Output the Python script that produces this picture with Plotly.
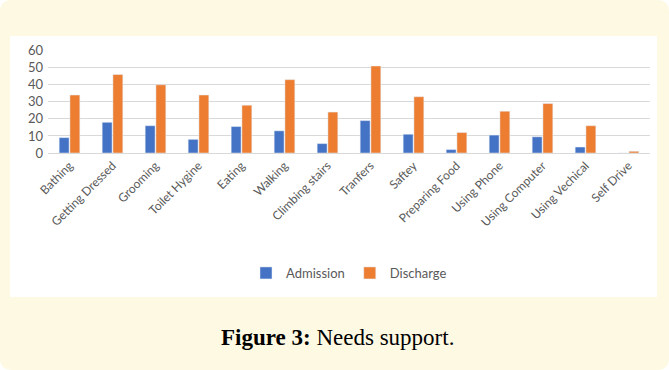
import plotly.graph_objects as go

categories = ["Bathing", "Getting Dressed", "Grooming", "Toilet Hygine", "Eating", "Walking",
              "Climbing stairs", "Tranfers", "Saftey", "Preparing Food", "Using Phone",
              "Using Computer", "Using Vechical", "Self Drive"]
admission = [9, 18, 16, 8, 15.5, 13, 5.5, 19, 11, 2, 10.5, 9.5, 3.5, 0]
discharge = [34, 46, 40, 34, 28, 43, 24, 51, 33, 12, 24.5, 29, 16, 1]
y_ticks = [0, 10, 20, 30, 40, 50, 60]

W, H = 669, 370
L, R, T, B = 48, 19, 50, 217
pw, ph = W - L - R, H - T - B

def px(x):
    return (x - L) / pw

def py(y):
    return (H - B - y) / ph

fig = go.Figure()
fig.add_trace(go.Bar(x=categories, y=admission, name="Admission",
                     marker=dict(color="#4472C4")))
fig.add_trace(go.Bar(x=categories, y=discharge, name="Discharge",
                     marker=dict(color="#ED7D31")))

# rounded yellow frame
r = 12
x0, x1, y0, y1 = px(0), px(W), py(H), py(0)
rx, ry = r / pw, r / ph
path = (f"M {x0+rx},{y1} L {x1-rx},{y1} Q {x1},{y1} {x1},{y1-ry} "
        f"L {x1},{y0+ry} Q {x1},{y0} {x1-rx},{y0} L {x0+rx},{y0} "
        f"Q {x0},{y0} {x0},{y0+ry} L {x0},{y1-ry} Q {x0},{y1} {x0+rx},{y1} Z")
shapes = [
    dict(type="path", xref="paper", yref="paper", path=path,
         fillcolor="#FEF9E3", line=dict(width=0), layer="below"),
    dict(type="rect", xref="paper", yref="paper", x0=px(10), x1=px(657),
         y0=py(297), y1=py(36), fillcolor="white", line=dict(width=0), layer="below"),
]

fig.update_layout(
    width=W, height=H,
    margin=dict(l=L, r=R, t=T, b=B, autoexpand=False),
    paper_bgcolor="white", plot_bgcolor="rgba(0,0,0,0)",
    barmode="group", bargap=0.5, bargroupgap=0.08,
    shapes=shapes,
    font=dict(family="Lato, Open Sans, sans-serif", color="#595959"),
    showlegend=True,
    legend=dict(orientation="h", x=0.5, xanchor="center", y=py(273), yanchor="middle",
                font=dict(size=13, color="#595959"), bgcolor="rgba(0,0,0,0)",
                traceorder="normal", itemwidth=30),
    annotations=[dict(text="<b>Figure 3:</b> Needs support.", xref="paper", yref="paper",
                      x=px(337), y=py(337), xanchor="center", yanchor="middle",
                      showarrow=False,
                      font=dict(family="Liberation Serif, serif", size=23, color="black"))],
)
fig.update_xaxes(tickangle=-45, tickfont=dict(size=12, color="#595959"),
                 showline=True, linecolor="#D9D9D9", linewidth=1, ticks="",
                 showgrid=False)
fig.update_yaxes(range=[0, 60.4], tickvals=y_ticks, tickfont=dict(size=13, color="#595959"),
                 showgrid=True, gridcolor="#D9D9D9", gridwidth=1, zeroline=False,
                 ticks="", ticklen=0, ticklabelstandoff=4)

fig.write_html("out.html")
